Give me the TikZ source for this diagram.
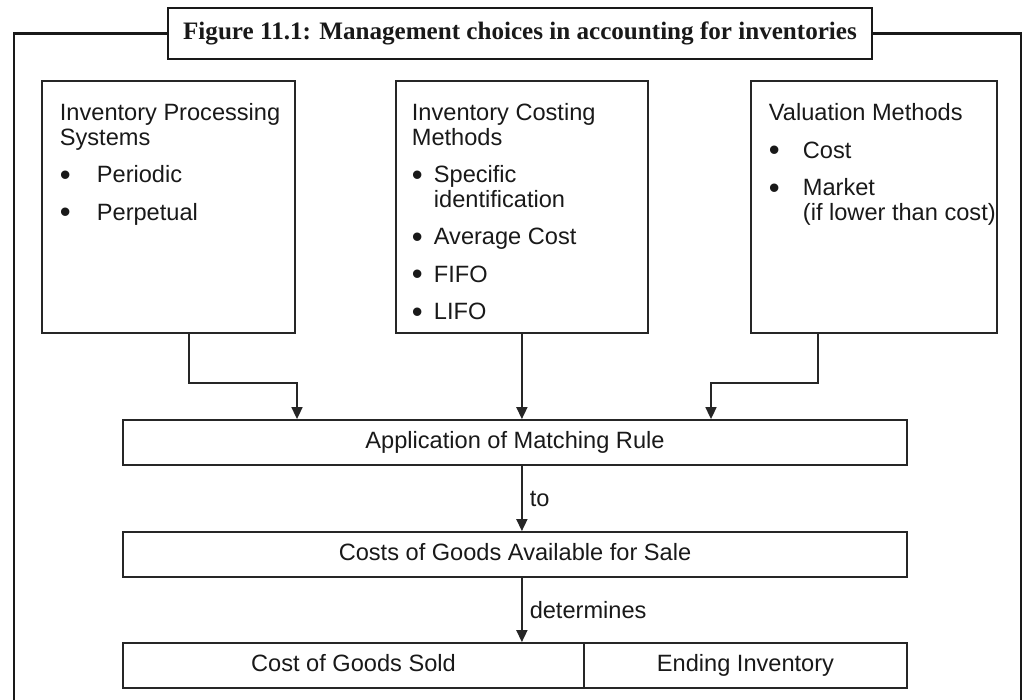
\documentclass[tikz,border=0pt]{standalone}
\usepackage{fontspec}
\setmainfont{Liberation Sans}
\newfontfamily\capfont{Liberation Serif}
\usetikzlibrary{arrows.meta}

% bullet item with hanging indent
\newcommand\bitem[2]{\par\hangindent=#1\hangafter=1\noindent
  \makebox[#1][l]{\raisebox{-2.5pt}{\fontsize{31}{24}\selectfont\textbullet}}#2}
% fixed size body of an upper box: width, left margin, text
\newcommand\boxbody[3]{\parbox[c][252pt][t]{#1}{\vspace*{10pt}\raggedright\leftskip=#2
  \parskip=13pt\fontsize{23.6}{24.5}\selectfont #3\par}}

\begin{document}
\begin{tikzpicture}[x=1pt,y=-1pt,
    every node/.style={text=black!90},
    sysbox/.style={draw=black!85,line width=1.8pt,anchor=north west,inner sep=0pt},
    flowbox/.style={draw=black!85,line width=1.8pt,minimum height=45pt,inner sep=0pt,
      text height=17pt,text depth=5pt,font=\fontsize{23.6}{26}\selectfont},
    link/.style={draw=black!85,line width=1.7pt,-{Triangle[length=12pt,width=11pt]}},
    lab/.style={right,inner xsep=7pt,font=\fontsize{23.6}{26}\selectfont},
    frame/.style={draw=black!90,line width=2.6pt}]
  \useasboundingbox (0,0) rectangle (1029,700);

  % outer frame and title
  \node[draw=black!90,line width=2.6pt,fill=white,minimum width=704pt,minimum height=51pt,
    inner sep=0pt,font=\capfont\bfseries\fontsize{25.1}{28}\selectfont] (title) at (520,33.5)
    {Figure 11.1: Management choices in accounting for inventories};
  \draw[frame] (title.west) -| (14,700);
  \draw[frame] (title.east) -| (1021,700);

  % choices
  \node[sysbox] (proc) at (41,80) {\boxbody{253pt}{18pt}{Inventory Processing\\Systems
    \bitem{37pt}{Periodic}\bitem{37pt}{Perpetual}}};
  \node[sysbox] (cost) at (395,80) {\boxbody{252pt}{16pt}{Inventory Costing\\Methods
    \bitem{22pt}{Specific\newline identification}\bitem{22pt}{Average Cost}\bitem{22pt}{FIFO}\bitem{22pt}{LIFO}}};
  \node[sysbox] (valu) at (750,80) {\boxbody{246pt}{18pt}{Valuation Methods
    \bitem{34pt}{Cost}\bitem{34pt}{Market\newline\mbox{(if lower than cost)}}}};

  % flow
  \node[flowbox,minimum width=784pt] (app) at (515,442.5) {Application of Matching Rule};
  \node[flowbox,minimum width=784pt] (avail) at (515,554.5) {Costs of Goods Available for Sale};
  \node[flowbox,minimum width=461pt] (cogs) at (353.5,665.5) {Cost of Goods Sold};
  \node[flowbox,minimum width=323pt] (endinv) at (745.5,665.5) {Ending Inventory};

  % connectors
  \coordinate (kl) at (189,383);
  \coordinate (ml) at (297,0);
  \coordinate (kr) at (818,383);
  \coordinate (mr) at (711,0);
  \draw[link] (proc.south -| kl) |- (ml |- kl) -- (app.north -| ml);
  \draw[link] (cost.south) -- (app.north -| cost.south);
  \draw[link] (valu.south -| kr) |- (mr |- kr) -- (app.north -| mr);
  \draw[link] (app.south -| cost.south) -- node[lab] (to) {to} (avail.north -| cost.south);
  \draw[link] (avail.south -| cost.south) -- node[lab] (det) {determines} (cogs.north -| cost.south);
\end{tikzpicture}
\end{document}
